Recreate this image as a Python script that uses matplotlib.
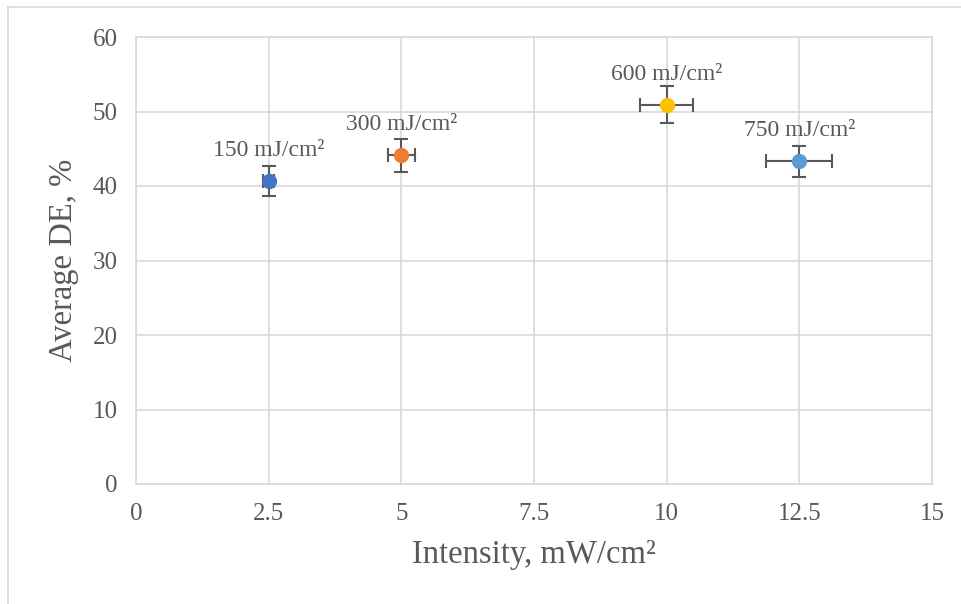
import matplotlib
matplotlib.use("Agg")
import matplotlib.pyplot as plt
from matplotlib.lines import Line2D

plt.rcParams['font.family'] = ['Liberation Serif', 'DejaVu Serif']

# data
doses = ["150 mJ/cm\u00b2", "300 mJ/cm\u00b2", "600 mJ/cm\u00b2", "750 mJ/cm\u00b2"]
intensity = [2.5, 5, 10, 12.5]
avg_de = [40.7, 44.1, 50.9, 43.3]
de_err = [2.05, 2.2, 2.5, 2.1]
intensity_err = [0.1, 0.25, 0.5, 0.62]
colors = ["#4472C4", "#ED7D31", "#FFC000", "#5B9BD5"]

x_ticks = [0, 2.5, 5, 7.5, 10, 12.5, 15]
x_tick_labels = ["0", "2.5", "5", "7.5", "10", "12.5", "15"]
y_ticks = [0, 10, 20, 30, 40, 50, 60]

grid_col = "#d9d9d9"
text_col = "#595959"

fig = plt.figure(figsize=(9.61, 6.04), dpi=100)
ax = fig.add_axes([136 / 961, 1 - 484 / 604, (932 - 136) / 961, (484 - 37) / 604])

for i in range(len(doses)):
    ax.errorbar(intensity[i], avg_de[i], yerr=de_err[i], xerr=intensity_err[i],
                fmt='none', ecolor=text_col, elinewidth=1.5, capsize=5,
                capthick=1.5, zorder=3)
    ax.plot(intensity[i], avg_de[i], 'o', color=colors[i], markersize=11,
            markeredgewidth=0, zorder=4)
    ax.annotate(doses[i], (intensity[i], avg_de[i]), xytext=(0, 22),
                textcoords='offset points', ha='center', va='center',
                fontsize=17, color=text_col)

ax.set_xlim(0, 15)
ax.set_ylim(0, 60)
ax.set_xticks(x_ticks)
ax.set_xticklabels(x_tick_labels)
ax.set_yticks(y_ticks)
ax.grid(True, color=grid_col, linewidth=1.2)
ax.set_axisbelow(True)
for s in ax.spines.values():
    s.set_color(grid_col)
    s.set_linewidth(1.2)
ax.tick_params(length=0, labelsize=18, labelcolor=text_col)
ax.tick_params(axis='x', pad=14)
ax.tick_params(axis='y', pad=13)

ax.set_xlabel("Intensity, mW/cm\u00b2", fontsize=23.5, color=text_col, labelpad=10)
ax.set_ylabel("Average DE, %", fontsize=23.5, color=text_col, labelpad=10)

# outer chart border (left and top edges visible)
fig.add_artist(Line2D([8 / 961, 8 / 961], [0, 1 - 7 / 604], transform=fig.transFigure,
                      color=grid_col, linewidth=1.2))
fig.add_artist(Line2D([8 / 961, 1], [1 - 7 / 604, 1 - 7 / 604], transform=fig.transFigure,
                      color=grid_col, linewidth=1.2))

fig.savefig("out.png", dpi=100)
